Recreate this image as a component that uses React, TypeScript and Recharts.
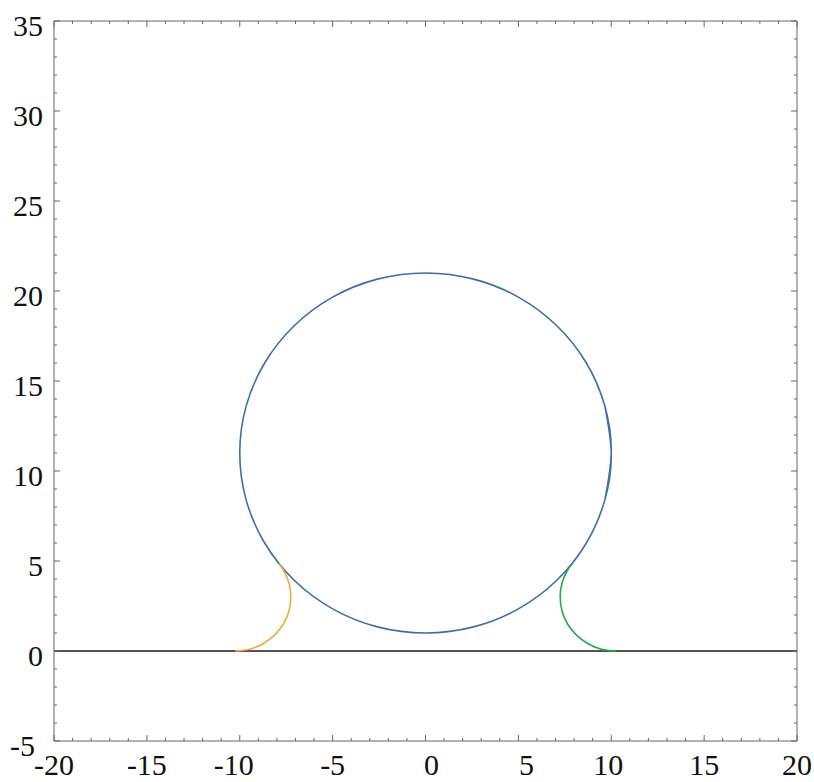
import React from 'react';
import { LineChart, Line, XAxis, YAxis } from 'recharts';

// Tick values
const xMajorTicks = [-20, -15, -10, -5, 0, 5, 10, 15, 20];
const xAllTicks = [-20, -19, -18, -17, -16, -15, -14, -13, -12, -11, -10, -9, -8, -7, -6, -5, -4, -3, -2, -1, 0, 1, 2, 3, 4, 5, 6, 7, 8, 9, 10, 11, 12, 13, 14, 15, 16, 17, 18, 19, 20];
const yMajorTicks = [-5, 0, 5, 10, 15, 20, 25, 30, 35];
const yAllTicks = [-5, -4, -3, -2, -1, 0, 1, 2, 3, 4, 5, 6, 7, 8, 9, 10, 11, 12, 13, 14, 15, 16, 17, 18, 19, 20, 21, 22, 23, 24, 25, 26, 27, 28, 29, 30, 31, 32, 33, 34, 35];

// Ground line
const groundX = [-20, 20];
const groundY = [0, 0];

// Big circle (blue), traced round once with a small overlap at the start/end
const circleX = [9.66, 10.0, 9.66, 8.66, 7.07, 5.0, 2.59, 0.0, -2.59, -5.0, -7.07, -8.66, -9.66, -10.0, -9.66, -8.66, -7.07, -5.0, -2.59, 0.0, 2.59, 5.0, 7.07, 8.66, 9.66, 10.0, 9.66];
const circleY = [8.41, 11.0, 13.59, 16.0, 18.07, 19.66, 20.66, 21.0, 20.66, 19.66, 18.07, 16.0, 13.59, 11.0, 8.41, 6.0, 3.93, 2.34, 1.34, 1.0, 1.34, 2.34, 3.93, 6.0, 8.41, 11.0, 13.59];

// Left fillet (orange)
const leftArcX = [-10.25, -9.47, -8.75, -8.13, -7.65, -7.35, -7.25, -7.35, -7.65, -7.89];
const leftArcY = [0.0, 0.1, 0.4, 0.88, 1.5, 2.22, 3.0, 3.78, 4.5, 4.85];

// Right fillet (green)
const rightArcX = [10.25, 9.47, 8.75, 8.13, 7.65, 7.35, 7.25, 7.35, 7.65, 7.89];
const rightArcY = [0.0, 0.1, 0.4, 0.88, 1.5, 2.22, 3.0, 3.78, 4.5, 4.85];

const zip = (xs: number[], ys: number[]) => xs.map((x, i) => ({ x, y: ys[i] }));

const groundData = zip(groundX, groundY);
const circleData = zip(circleX, circleY);
const leftArcData = zip(leftArcX, leftArcY);
const rightArcData = zip(rightArcX, rightArcY);

const FONT = '"Liberation Serif", "Times New Roman", serif';
const FONT_SIZE = 30;
const FRAME = '#666666';
const M = 10;

// small horizontal nudges of individual labels, as seen in the reference
const xLabelNudge: Record<string, number> = { '-10': -6, '0': 6, '5': 8, '10': -3 };
const yLabelNudge: Record<string, number> = { '-5': -8 };

type Side = 'bottom' | 'top' | 'left' | 'right';

const makeTick = (side: Side, majors: number[], labels: boolean) => (props: any) => {
  const { x, y, payload } = props;
  const v = payload.value;
  const major = majors.includes(v);
  const len = major ? 6 : 3;
  let ln: React.ReactNode = null;
  let label: React.ReactNode = null;
  if (side === 'bottom') {
    const ay = y - M;
    ln = <line x1={x} x2={x} y1={ay} y2={ay - len} stroke={FRAME} strokeWidth={1} />;
    if (labels && major) {
      label = (
        <text x={x + (xLabelNudge[String(v)] || 0)} y={ay + 34} textAnchor="middle" fontFamily={FONT} fontSize={FONT_SIZE} fill="#111">
          {String(v)}
        </text>
      );
    }
  } else if (side === 'top') {
    const ay = y + M;
    ln = <line x1={x} x2={x} y1={ay} y2={ay + len} stroke={FRAME} strokeWidth={1} />;
  } else if (side === 'left') {
    const ax = x + M;
    ln = <line x1={ax} x2={ax + len} y1={y} y2={y} stroke={FRAME} strokeWidth={1} />;
    if (labels && major) {
      label = (
        <text x={ax - 11 + (yLabelNudge[String(v)] || 0)} y={y + 15} textAnchor="end" fontFamily={FONT} fontSize={FONT_SIZE} fill="#111">
          {String(v)}
        </text>
      );
    }
  } else {
    const ax = x - M;
    ln = <line x1={ax} x2={ax - len} y1={y} y2={y} stroke={FRAME} strokeWidth={1} />;
  }
  return (
    <g>
      {ln}
      {label}
    </g>
  );
};

export default function App() {
  return (
    <div style={{ position: 'fixed', left: 0, top: 0, background: '#fff' }}>
      <LineChart width={814} height={782} margin={{ top: 0, right: 0, bottom: 0, left: 0 }}>
        <XAxis
          xAxisId="b"
          orientation="bottom"
          type="number"
          dataKey="x"
          domain={[-20, 20]}
          ticks={xAllTicks}
          interval={0}
          allowDataOverflow
          height={41}
          tickLine={false}
          tickSize={0}
          tickMargin={M}
          axisLine={{ stroke: FRAME, strokeWidth: 1 }}
          tick={makeTick('bottom', xMajorTicks, true)}
        />
        <XAxis
          xAxisId="t"
          orientation="top"
          type="number"
          dataKey="x"
          domain={[-20, 20]}
          ticks={xAllTicks}
          interval={0}
          allowDataOverflow
          height={21}
          tickLine={false}
          tickSize={0}
          tickMargin={M}
          axisLine={{ stroke: FRAME, strokeWidth: 1 }}
          tick={makeTick('top', xMajorTicks, false)}
        />
        <YAxis
          yAxisId="l"
          orientation="left"
          type="number"
          domain={[-5, 35]}
          ticks={yAllTicks}
          interval={0}
          allowDataOverflow
          width={54}
          tickLine={false}
          tickSize={0}
          tickMargin={M}
          axisLine={{ stroke: FRAME, strokeWidth: 1 }}
          tick={makeTick('left', yMajorTicks, true)}
        />
        <YAxis
          yAxisId="r"
          orientation="right"
          type="number"
          domain={[-5, 35]}
          ticks={yAllTicks}
          interval={0}
          allowDataOverflow
          width={17}
          tickLine={false}
          tickSize={0}
          tickMargin={M}
          axisLine={{ stroke: FRAME, strokeWidth: 1 }}
          tick={makeTick('right', yMajorTicks, false)}
        />
        <Line
          data={groundData}
          dataKey="y"
          xAxisId="b"
          yAxisId="l"
          type="linear"
          stroke="#1a1a1a"
          strokeWidth={1.6}
          dot={false}
          isAnimationActive={false}
        />
        <Line
          data={circleData}
          dataKey="y"
          xAxisId="b"
          yAxisId="l"
          type="natural"
          stroke="#3d6fa6"
          strokeWidth={1.6}
          dot={false}
          isAnimationActive={false}
        />
        <Line
          data={leftArcData}
          dataKey="y"
          xAxisId="b"
          yAxisId="l"
          type="natural"
          stroke="#f0aa3c"
          strokeWidth={1.6}
          dot={false}
          isAnimationActive={false}
        />
        <Line
          data={rightArcData}
          dataKey="y"
          xAxisId="b"
          yAxisId="l"
          type="natural"
          stroke="#2aa84c"
          strokeWidth={1.6}
          dot={false}
          isAnimationActive={false}
        />
      </LineChart>
    </div>
  );
}
